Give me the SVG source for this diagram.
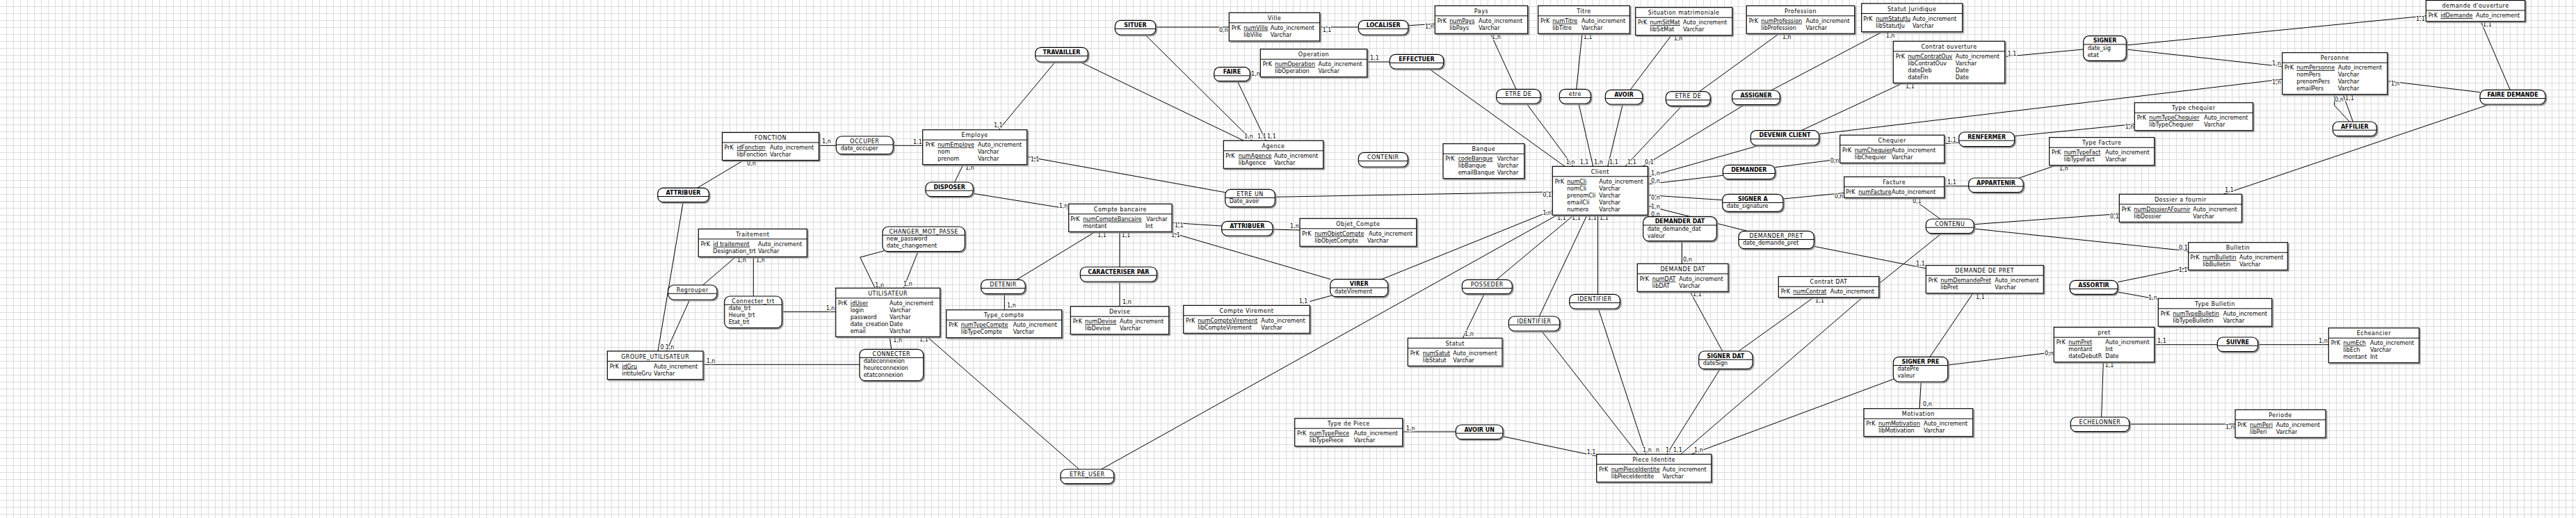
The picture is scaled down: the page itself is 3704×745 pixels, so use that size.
<svg xmlns="http://www.w3.org/2000/svg" width="3704" height="745" viewBox="0 0 3704 745">
<defs>
<pattern id="grid" width="10" height="10" patternUnits="userSpaceOnUse"><path d="M9.5 0V10M0 9.5H10" fill="none" stroke="#dcdcdc" stroke-width="1"/></pattern>
<filter id="sh" x="-5%" y="-5%" width="115%" height="130%"><feDropShadow dx="1.6" dy="1.6" stdDeviation="0.3" flood-color="#8a8a8a" flood-opacity="1"/></filter>
</defs>
<style>
text{font-family:"DejaVu Sans","Liberation Sans",sans-serif;font-size:8px;fill:#000}
.e{fill:#fff;stroke:#000;stroke-width:1.2;filter:url(#sh)}
.r{fill:#fff;stroke:#000;stroke-width:1.2;filter:url(#sh)}
.d{stroke:#000;stroke-width:1;fill:none}
.t{text-anchor:middle;letter-spacing:0.5px}
.b{font-weight:bold;letter-spacing:0}
.k{text-decoration:underline}
.c path{stroke:#000;stroke-width:1;fill:none}
.c text{paint-order:stroke;stroke:#fff;stroke-width:2.5px;stroke-linejoin:round}
</style>
<rect width="3704" height="745" fill="#fff"/>
<rect width="3704" height="745" fill="url(#grid)"/>

<g id="connectors" class="c">
<path d="M1177.7 209.3L1202.3 209.3"/>
<path d="M1284.3 209.3L1326.7 209.3"/>
<path d="M1002.7 270.3L1069.3 230.5"/>
<path d="M982.3 290.7L946 505"/>
<path d="M991.7 431L958.3 505"/>
<path d="M1058 369.3L1010 410.5"/>
<path d="M1083.3 369.3L1083.3 426"/>
<path d="M1124.3 448.3L1201.7 448.3"/>
<path d="M1236 524.3L1011 524.3"/>
<path d="M1279.3 484.3L1281.7 502.3"/>
<path d="M1271.7 360.7L1236.7 370L1258.3 414.3"/>
<path d="M1320 361.7L1299.3 414.3"/>
<path d="M1333 484.3L1551.7 675"/>
<path d="M1583.3 675L2239 309.3"/>
<path d="M1517.3 89L1436 186.7"/>
<path d="M1552.7 89L1788.3 202.3"/>
<path d="M1661.7 39L1767.3 39"/>
<path d="M1646.7 50L1800.6 202.3"/>
<path d="M1779.3 116.7L1820 202.3"/>
<path d="M1797.3 108L1812.3 108"/>
<path d="M1965.7 89L1998.3 89"/>
<path d="M2055 99L2250 239.3"/>
<path d="M1897.7 39L1953.3 39"/>
<path d="M2025 36.7L2063.3 34.5"/>
<path d="M2143.3 48.3L2180 128.3"/>
<path d="M2195 149L2262 239.3"/>
<path d="M2275 48.3L2266.7 128.3"/>
<path d="M2270 149L2290.7 239.3"/>
<path d="M2403.3 50.7L2344 129.3"/>
<path d="M2333.3 150L2311.7 239.3"/>
<path d="M2558.3 48.3L2443.3 131.7"/>
<path d="M2418.3 152.3L2336.7 239.3"/>
<path d="M2706.7 45.7L2546.7 130"/>
<path d="M2508.3 150.7L2362 239.3"/>
<path d="M1833.3 283.3L2232.3 276"/>
<path d="M1476.7 225.4L1761.7 276.7"/>
<path d="M1385 236.7L1372.7 262"/>
<path d="M1399.3 278.3L1536.7 300.4"/>
<path d="M1685 320.3L1756.7 325"/>
<path d="M1830 330L1869 331"/>
<path d="M1575 333.3L1461.7 402.3"/>
<path d="M1610 333.3L1610 384"/>
<path d="M1610 405L1610 440.7"/>
<path d="M1444.3 422.7L1444.3 445.7"/>
<path d="M1685 335L1913.3 401.7"/>
<path d="M1915 425L1883.3 433.5"/>
<path d="M1986.7 401.7L2232.3 302.5"/>
<path d="M2263 309.3L2151.7 402.3"/>
<path d="M2134.3 422.7L2103.3 486.3"/>
<path d="M2282 309.3L2213.3 455"/>
<path d="M2216.7 476L2355 653.3"/>
<path d="M2297.5 309.3L2297.5 423.3"/>
<path d="M2298.3 444L2366.7 653.3"/>
<path d="M2016.7 621L2093.3 621"/>
<path d="M2161 627.7L2295.7 656"/>
<path d="M2430 419.3L2476.7 505"/>
<path d="M2608 427.7L2500 505"/>
<path d="M2473.3 530.7L2396.7 653.3"/>
<path d="M2678.3 427.7L2416.7 653.3"/>
<path d="M2723.3 545L2432 653.3"/>
<path d="M2418.3 346.7L2418.3 379.3"/>
<path d="M2512 332.3L2369.3 296"/>
<path d="M2608.3 354.3L2769.3 386"/>
<path d="M2791.7 335.7L2701.7 408"/>
<path d="M2369.3 254.5L2530 209"/>
<path d="M2590 187.7L2736.7 119.3"/>
<path d="M2615.7 192.7L3281.7 114"/>
<path d="M2369.3 264.9L2477.3 252.3"/>
<path d="M2552.3 240.7L2645.7 228.8"/>
<path d="M2369.3 280.5L2476.7 287.7"/>
<path d="M2564 286L2651.7 277.5"/>
<path d="M2795.7 206.7L2816.7 205"/>
<path d="M2896.7 195.7L3069.3 178.5"/>
<path d="M2795.7 267.7L2830.7 267.7"/>
<path d="M2903.3 256L2956.7 237.7"/>
<path d="M2747.6 284.3L2790 315"/>
<path d="M2838.3 322.7L3047.3 307.5"/>
<path d="M2838.3 329L3146.7 361"/>
<path d="M2882.7 81.5L2995.7 71"/>
<path d="M3057.3 65L3488.3 22.8"/>
<path d="M3057.3 71L3281.7 95.7"/>
<path d="M3567 30.7L3609.3 129.3"/>
<path d="M3432.7 116.5L3566 132.7"/>
<path d="M3580 150L3197 279.3"/>
<path d="M3356.7 135.7L3356.7 151.7L3378.3 175"/>
<path d="M3369 135.7L3383.3 175"/>
<path d="M3045 405.7L3146.7 385"/>
<path d="M3045 420L3103.3 430.5"/>
<path d="M3097.7 495.7L3188.3 495.7"/>
<path d="M3246.7 495.7L3348.3 495.7"/>
<path d="M3024.3 520.7L3021.7 600"/>
<path d="M3061.7 610L3214 610"/>
<path d="M2953.3 506.5L2800.7 525"/>
<path d="M2775 513.3L2837 421.7"/>
<path d="M2762.3 549L2760 587.7"/>

<text x="1182" y="206">1,n</text>
<text x="1313" y="207">1,1</text>
<text x="1074" y="238">0,n</text>
<text x="949.5" y="502">0</text>
<text x="956.7" y="502">1,n</text>
<text x="1060" y="377">1,n</text>
<text x="1087" y="377">1,n</text>
<text x="1187.7" y="445.7">1,n</text>
<text x="1015.7" y="522.3">1,n</text>
<text x="1284.3" y="492">1,n</text>
<text x="1258.3" y="413">1,n</text>
<text x="1299" y="411.3">1,n</text>
<text x="1322" y="491">1,1</text>
<text x="1429" y="183">1,1</text>
<text x="1789" y="199">1,n</text>
<text x="1808" y="199">1,1</text>
<text x="1822" y="199">1,1</text>
<text x="1753" y="46">0,n</text>
<text x="1799" y="109">1,n</text>
<text x="1970" y="86.3">1,1</text>
<text x="1901.7" y="45.7">1,1</text>
<text x="2049" y="41">1,n</text>
<text x="2145" y="56.3">1,n</text>
<text x="2276.7" y="56.3">1,1</text>
<text x="2406.7" y="58">1,n</text>
<text x="2562.7" y="56">1,n</text>
<text x="2711.7" y="53.7">1,n</text>
<text x="2251.7" y="236.3">1,n</text>
<text x="2271.7" y="236.3">1,1</text>
<text x="2292" y="236.3">1,n</text>
<text x="2314" y="236.3">1,1</text>
<text x="2340" y="236.3">1,1</text>
<text x="2365" y="236.3">0,1</text>
<text x="2239" y="316">1,1</text>
<text x="2260" y="316">1,1</text>
<text x="2283" y="316">1,1</text>
<text x="2300" y="316">1,1</text>
<text x="2374" y="252">1,n</text>
<text x="2374" y="263">0,n</text>
<text x="2374" y="287">0,n</text>
<text x="2374" y="299.7">1,n</text>
<text x="2374" y="311.3">0,n</text>
<text x="2218.3" y="283">0,1</text>
<text x="2218.3" y="309">1,n</text>
<text x="1481.7" y="232">1,1</text>
<text x="1388" y="244">1,n</text>
<text x="1522.7" y="298.7">1,n</text>
<text x="1689" y="327">1,1</text>
<text x="1855" y="328">1,n</text>
<text x="1578" y="341">1,1</text>
<text x="1612.7" y="341">1,1</text>
<text x="1684" y="341">1,1</text>
<text x="1614" y="437.3">1,n</text>
<text x="1448" y="442.3">1,n</text>
<text x="1867.7" y="435.7">1,1</text>
<text x="2106" y="483">1,n</text>
<text x="2021.7" y="619">1,n</text>
<text x="2281.7" y="653">1,1</text>
<text x="2362" y="649.7">1,n</text>
<text x="2381" y="649.7">n</text>
<text x="2395" y="649.7">1,</text>
<text x="2406" y="649.7">1,1</text>
<text x="2436" y="649.7">1,n</text>
<text x="2434" y="426.3">1,1</text>
<text x="2610" y="435.3">1,1</text>
<text x="2420" y="376">0,n</text>
<text x="2755" y="382">1,1</text>
<text x="2740" y="127">1,1</text>
<text x="3267" y="121.3">1,n</text>
<text x="2631.7" y="233.7">0,n</text>
<text x="2637.7" y="284.7">0,n</text>
<text x="2800" y="204">1,1</text>
<text x="3055.7" y="184.7">1,n</text>
<text x="2800" y="265.3">1,1</text>
<text x="2961" y="245.3">1,n</text>
<text x="2750" y="292.3">0,1</text>
<text x="3034" y="313.7">0,1</text>
<text x="3133" y="359">0,1</text>
<text x="2886.7" y="79.7">1,1</text>
<text x="3474" y="29.7">1,1</text>
<text x="3267" y="93.7">1,n</text>
<text x="3570" y="38">1,1</text>
<text x="3437.7" y="123">1,n</text>
<text x="3199" y="276">1,1</text>
<text x="3357" y="145.7">0,n</text>
<text x="3372" y="144">1,1</text>
<text x="3132.7" y="391">1,1</text>
<text x="3089" y="430.7">1,n</text>
<text x="3102" y="493">1,1</text>
<text x="3334" y="493">1,n</text>
<text x="3026.7" y="528">1,1</text>
<text x="3200" y="617">1,n</text>
<text x="2940" y="511.3">0,n</text>
<text x="2841" y="429.7">1,1</text>
<text x="2765" y="584">0,n</text>
</g>

<g id="e-fonction"><rect class="e" x="1038.5" y="190.5" width="139" height="40"/><path class="d" d="M1038.5 205h139"/><text class="t" x="1108" y="201">FONCTION</text><text x="1041.5" y="215">PrK</text><text class="k" x="1059.3" y="215">idFonction</text><text x="1107" y="215">Auto_increment</text><text x="1059.3" y="225">libFonction</text><text x="1107" y="225">Varchar</text></g>
<g id="e-traitement"><rect class="e" x="1004.3" y="329.3" width="156" height="40"/><path class="d" d="M1004.3 343.8h156"/><text class="t" x="1082.3" y="339.8">Traitement</text><text x="1007.7" y="353.8">PrK</text><text class="k" x="1025.3" y="353.8">id traitement</text><text x="1090" y="353.8">Auto_increment</text><text x="1025.3" y="363.8">Designation_trt</text><text x="1090" y="363.8">Varchar</text></g>
<g id="e-groupe-utilisateur"><rect class="e" x="873.3" y="505" width="137.7" height="40.7"/><path class="d" d="M873.3 519.5h137.7"/><text class="t" x="942.2" y="515.5">GROUPE_UTILISATEUR</text><text x="876.7" y="529.5">PrK</text><text class="k" x="894.3" y="529.5">idGru</text><text x="940" y="529.5">Auto_increment</text><text x="894.3" y="539.5">intituleGru</text><text x="940" y="539.5">Varchar</text></g>
<g id="e-employe"><rect class="e" x="1326.7" y="186.7" width="150" height="50"/><path class="d" d="M1326.7 201.2h150"/><text class="t" x="1401.7" y="197.2">Employe</text><text x="1330.7" y="211.2">PrK</text><text class="k" x="1348.3" y="211.2">numEmploye</text><text x="1406" y="211.2">Auto_increment</text><text x="1348.3" y="221.2">nom</text><text x="1406" y="221.2">Varchar</text><text x="1348.3" y="231.2">prenom</text><text x="1406" y="231.2">Varchar</text></g>
<g id="e-utilisateur"><rect class="e" x="1201.7" y="414.3" width="150" height="70"/><path class="d" d="M1201.7 428.8h150"/><text class="t" x="1276.7" y="424.8">UTILISATEUR</text><text x="1205" y="438.8">PrK</text><text class="k" x="1222.7" y="438.8">idUser</text><text x="1279" y="438.8">Auto_increment</text><text x="1222.7" y="448.8">login</text><text x="1279" y="448.8">Varchar</text><text x="1222.7" y="458.8">password</text><text x="1279" y="458.8">Varchar</text><text x="1222.7" y="468.8">date_creation</text><text x="1279" y="468.8">Date</text><text x="1222.7" y="478.8">email</text><text x="1279" y="478.8">Varchar</text></g>
<g id="e-compte-bancaire"><rect class="e" x="1536.7" y="293.3" width="148.3" height="40"/><path class="d" d="M1536.7 307.8h148.3"/><text class="t" x="1610.9" y="303.8">Compte bancaire</text><text x="1539.3" y="317.8">PrK</text><text class="k" x="1557.3" y="317.8">numCompteBancaire</text><text x="1648.3" y="317.8">Varchar</text><text x="1557.3" y="327.8">montant</text><text x="1647" y="327.8">Int</text></g>
<g id="e-type-compte"><rect class="e" x="1360.7" y="445.7" width="166" height="40"/><path class="d" d="M1360.7 460.2h166"/><text class="t" x="1443.7" y="456.2">Type_compte</text><text x="1364" y="470.2">PrK</text><text class="k" x="1381.7" y="470.2">numTypeCompte</text><text x="1456.7" y="470.2">Auto_increment</text><text x="1381.7" y="480.2">libTypeCompte</text><text x="1456.7" y="480.2">Varchar</text></g>
<g id="e-devise"><rect class="e" x="1539.3" y="440.7" width="141.4" height="40"/><path class="d" d="M1539.3 455.2h141.4"/><text class="t" x="1610" y="451.2">Devise</text><text x="1542.7" y="465.2">PrK</text><text class="k" x="1560" y="465.2">numDevise</text><text x="1610" y="465.2">Auto_increment</text><text x="1560" y="475.2">libDevise</text><text x="1610" y="475.2">Varchar</text></g>
<g id="e-compte-virement"><rect class="e" x="1701.7" y="439.3" width="181.6" height="40"/><path class="d" d="M1701.7 453.8h181.6"/><text class="t" x="1792.5" y="449.8">Compte Virement</text><text x="1705" y="463.8">PrK</text><text class="k" x="1722.3" y="463.8">numCompteVirement</text><text x="1813.3" y="463.8">Auto_increment</text><text x="1722.3" y="473.8">libCompteVirement</text><text x="1813.3" y="473.8">Varchar</text></g>
<g id="e-ville"><rect class="e" x="1767.3" y="18.3" width="130.4" height="40.7"/><path class="d" d="M1767.3 32.8h130.4"/><text class="t" x="1832.5" y="28.8">Ville</text><text x="1770.7" y="42.8">PrK</text><text class="k" x="1788.3" y="42.8">numVille</text><text x="1826.7" y="42.8">Auto_increment</text><text x="1788.3" y="52.8">libVille</text><text x="1826.7" y="52.8">Varchar</text></g>
<g id="e-operation"><rect class="e" x="1812.3" y="70.7" width="153.4" height="40"/><path class="d" d="M1812.3 85.2h153.4"/><text class="t" x="1889" y="81.2">Operation</text><text x="1815.7" y="95.2">PrK</text><text class="k" x="1833.3" y="95.2">numOperation</text><text x="1895.5" y="95.2">Auto_increment</text><text x="1833.3" y="105.2">libOperation</text><text x="1895.5" y="105.2">Varchar</text></g>
<g id="e-agence"><rect class="e" x="1759.3" y="202.3" width="143.4" height="40"/><path class="d" d="M1759.3 216.8h143.4"/><text class="t" x="1831" y="212.8">Agence</text><text x="1762.3" y="226.8">PrK</text><text class="k" x="1780.7" y="226.8">numAgence</text><text x="1832" y="226.8">Auto_increment</text><text x="1780.7" y="236.8">libAgence</text><text x="1832" y="236.8">Varchar</text></g>
<g id="e-banque"><rect class="e" x="2075" y="206.7" width="116.7" height="50"/><path class="d" d="M2075 221.2h116.7"/><text class="t" x="2133.3" y="217.2">Banque</text><text x="2078.3" y="231.2">PrK</text><text class="k" x="2096.7" y="231.2">codeBanque</text><text x="2152.7" y="231.2">Varchar</text><text x="2096.7" y="241.2">libBanque</text><text x="2152.7" y="241.2">Varchar</text><text x="2096.7" y="251.2">emailBanque</text><text x="2152.7" y="251.2">Varchar</text></g>
<g id="e-objet-compte"><rect class="e" x="1869" y="314.3" width="167.7" height="40"/><path class="d" d="M1869 328.8h167.7"/><text class="t" x="1952.8" y="324.8">Objet_Compte</text><text x="1872.3" y="338.8">PrK</text><text class="k" x="1890.3" y="338.8">numObjetCompte</text><text x="1968" y="338.8">Auto_increment</text><text x="1890.3" y="348.8">libObjetCompte</text><text x="1966" y="348.8">Varchar</text></g>
<g id="e-pays"><rect class="e" x="2063.3" y="8.3" width="133.4" height="40"/><path class="d" d="M2063.3 22.8h133.4"/><text class="t" x="2130" y="18.8">Pays</text><text x="2066.7" y="32.8">PrK</text><text class="k" x="2084.3" y="32.8">numPays</text><text x="2126" y="32.8">Auto_increment</text><text x="2084.3" y="42.8">libPays</text><text x="2126" y="42.8">Varchar</text></g>
<g id="e-titre"><rect class="e" x="2211.7" y="8.3" width="131.6" height="40"/><path class="d" d="M2211.7 22.8h131.6"/><text class="t" x="2277.5" y="18.8">Titre</text><text x="2215" y="32.8">PrK</text><text class="k" x="2232.3" y="32.8">numTitre</text><text x="2274" y="32.8">Auto_increment</text><text x="2232.3" y="42.8">libTitre</text><text x="2274" y="42.8">Varchar</text></g>
<g id="e-situation-matrimoniale"><rect class="e" x="2351.7" y="10.7" width="139" height="40"/><path class="d" d="M2351.7 25.2h139"/><text class="t" x="2421.2" y="21.2">Situation matrimoniale</text><text x="2355" y="35.2">PrK</text><text class="k" x="2372.3" y="35.2">numSitMat</text><text x="2420" y="35.2">Auto_increment</text><text x="2372.3" y="45.2">libSitMat</text><text x="2420" y="45.2">Varchar</text></g>
<g id="e-profession"><rect class="e" x="2511.3" y="8.3" width="155.4" height="40"/><path class="d" d="M2511.3 22.8h155.4"/><text class="t" x="2589" y="18.8">Profession</text><text x="2514.7" y="32.8">PrK</text><text class="k" x="2532.3" y="32.8">numProfession</text><text x="2596.5" y="32.8">Auto_increment</text><text x="2532.3" y="42.8">libProfession</text><text x="2596.5" y="42.8">Varchar</text></g>
<g id="e-statut-juridique"><rect class="e" x="2676.7" y="5" width="145" height="40.7"/><path class="d" d="M2676.7 19.5h145"/><text class="t" x="2749.2" y="15.5">Statut Juridique</text><text x="2679.3" y="29.5">PrK</text><text class="k" x="2697.3" y="29.5">numStatutJu</text><text x="2750" y="29.5">Auto_increment</text><text x="2697.3" y="39.5">libStatutJu</text><text x="2750" y="39.5">Varchar</text></g>
<g id="e-contrat-ouverture"><rect class="e" x="2722.3" y="59.3" width="160.4" height="60"/><path class="d" d="M2722.3 73.8h160.4"/><text class="t" x="2802.5" y="69.8">Contrat ouverture</text><text x="2725.7" y="83.8">PrK</text><text class="k" x="2743.3" y="83.8">numContratOuv</text><text x="2811.7" y="83.8">Auto_increment</text><text x="2743.3" y="93.8">libContratOuv</text><text x="2811.7" y="93.8">Varchar</text><text x="2743.3" y="103.8">dateDeb</text><text x="2811.7" y="103.8">Date</text><text x="2743.3" y="113.8">dateFin</text><text x="2811.7" y="113.8">Date</text></g>
<g id="e-client"><rect class="e" x="2232.3" y="239.3" width="137" height="70"/><path class="d" d="M2232.3 253.8h137"/><text class="t" x="2300.8" y="249.8">Client</text><text x="2235.7" y="263.8">PrK</text><text class="k" x="2253.3" y="263.8">numCli</text><text x="2299.3" y="263.8">Auto_increment</text><text x="2253.3" y="273.8">nomCli</text><text x="2299.3" y="273.8">Varchar</text><text x="2253.3" y="283.8">prenomCli</text><text x="2299.3" y="283.8">Varchar</text><text x="2253.3" y="293.8">emailCli</text><text x="2299.3" y="293.8">Varchar</text><text x="2253.3" y="303.8">numero</text><text x="2299.3" y="303.8">Varchar</text></g>
<g id="e-chequier"><rect class="e" x="2645.7" y="194.3" width="150" height="40"/><path class="d" d="M2645.7 208.8h150"/><text class="t" x="2720.7" y="204.8">Chequier</text><text x="2649" y="218.8">PrK</text><text class="k" x="2666.7" y="218.8">numChequier</text><text x="2720" y="218.8">Auto_increment</text><text x="2666.7" y="228.8">libChequier</text><text x="2720" y="228.8">Varchar</text></g>
<g id="e-facture"><rect class="e" x="2651.7" y="254.3" width="144" height="30"/><path class="d" d="M2651.7 268.8h144"/><text class="t" x="2723.7" y="264.8">Facture</text><text x="2654.3" y="278.8">PrK</text><text class="k" x="2672.3" y="278.8">numFacture</text><text x="2720" y="278.8">Auto_increment</text></g>
<g id="e-type-chequier"><rect class="e" x="3069.3" y="147.7" width="170" height="40"/><path class="d" d="M3069.3 162.2h170"/><text class="t" x="3154.3" y="158.2">Type chequier</text><text x="3072.7" y="172.2">PrK</text><text class="k" x="3090" y="172.2">numTypeChequier</text><text x="3169" y="172.2">Auto_increment</text><text x="3090" y="182.2">libTypeChequier</text><text x="3169" y="182.2">Varchar</text></g>
<g id="e-type-facture"><rect class="e" x="2946.7" y="197.7" width="151" height="40"/><path class="d" d="M2946.7 212.2h151"/><text class="t" x="3022.2" y="208.2">Type Facture</text><text x="2950" y="222.2">PrK</text><text class="k" x="2967.7" y="222.2">numTypeFact</text><text x="3027.3" y="222.2">Auto_increment</text><text x="2967.7" y="232.2">libTypeFact</text><text x="3027.3" y="232.2">Varchar</text></g>
<g id="e-demande-ouverture"><rect class="e" x="3488.3" y="0.5" width="142.4" height="30.2"/><path class="d" d="M3488.3 15h142.4"/><text class="t" x="3559.5" y="11">demande d'ouverture</text><text x="3491.7" y="25">PrK</text><text class="k" x="3509.3" y="25">idDemande</text><text x="3560" y="25">Auto_increment</text></g>
<g id="e-personne"><rect class="e" x="3281.7" y="75.7" width="151" height="60"/><path class="d" d="M3281.7 90.2h151"/><text class="t" x="3357.2" y="86.2">Personne</text><text x="3284.7" y="100.2">PrK</text><text class="k" x="3302.3" y="100.2">numPersonne</text><text x="3361.7" y="100.2">Auto_increment</text><text x="3302.3" y="110.2">nomPers</text><text x="3361.7" y="110.2">Varchar</text><text x="3302.3" y="120.2">prenomPers</text><text x="3361.7" y="120.2">Varchar</text><text x="3302.3" y="130.2">emailPers</text><text x="3361.7" y="130.2">Varchar</text></g>
<g id="e-dossier-a-fournir"><rect class="e" x="3047.3" y="279.3" width="176" height="40"/><path class="d" d="M3047.3 293.8h176"/><text class="t" x="3135.3" y="289.8">Dossier a fournir</text><text x="3050.7" y="303.8">PrK</text><text class="k" x="3068.3" y="303.8">numDossierAFournir</text><text x="3153.3" y="303.8">Auto_increment</text><text x="3068.3" y="313.8">libDossier</text><text x="3153.3" y="313.8">Varchar</text></g>
<g id="e-bulletin"><rect class="e" x="3146.7" y="348.7" width="142.6" height="39.6"/><path class="d" d="M3146.7 363.2h142.6"/><text class="t" x="3218" y="359.2">Bulletin</text><text x="3149.3" y="373.2">PrK</text><text class="k" x="3167.3" y="373.2">numBulletin</text><text x="3220" y="373.2">Auto_increment</text><text x="3167.3" y="383.2">libBulletin</text><text x="3220" y="383.2">Varchar</text></g>
<g id="e-type-bulletin"><rect class="e" x="3103.3" y="429.3" width="163.4" height="40"/><path class="d" d="M3103.3 443.8h163.4"/><text class="t" x="3185" y="439.8">Type Bulletin</text><text x="3106.7" y="453.8">PrK</text><text class="k" x="3124.3" y="453.8">numTypeBulletin</text><text x="3196.7" y="453.8">Auto_increment</text><text x="3124.3" y="463.8">libTypeBulletin</text><text x="3196.7" y="463.8">Varchar</text></g>
<g id="e-demande-dat"><rect class="e" x="2354.3" y="379.3" width="130.7" height="40"/><path class="d" d="M2354.3 393.8h130.7"/><text class="t" x="2419.7" y="389.8">DEMANDE DAT</text><text x="2357.7" y="403.8">PrK</text><text class="k" x="2375.7" y="403.8">numDAT</text><text x="2414.3" y="403.8">Auto_increment</text><text x="2375.7" y="413.8">libDAT</text><text x="2414.3" y="413.8">Varchar</text></g>
<g id="e-contrat-dat"><rect class="e" x="2557.3" y="397.7" width="144.4" height="30"/><path class="d" d="M2557.3 412.2h144.4"/><text class="t" x="2629.5" y="408.2">Contrat DAT</text><text x="2560.7" y="422.2">PrK</text><text class="k" x="2578.3" y="422.2">numContrat</text><text x="2631.7" y="422.2">Auto_increment</text></g>
<g id="e-demande-de-pret"><rect class="e" x="2769.3" y="381.7" width="169" height="40"/><path class="d" d="M2769.3 396.2h169"/><text class="t" x="2853.8" y="392.2">DEMANDE DE PRET</text><text x="2772.7" y="406.2">PrK</text><text class="k" x="2790.3" y="406.2">numDemandePret</text><text x="2868.3" y="406.2">Auto_increment</text><text x="2790.3" y="416.2">libPret</text><text x="2868.3" y="416.2">Varchar</text></g>
<g id="e-pret"><rect class="e" x="2953.3" y="470.7" width="144.4" height="50"/><path class="d" d="M2953.3 485.2h144.4"/><text class="t" x="3025.5" y="481.2">pret</text><text x="2956.7" y="495.2">PrK</text><text class="k" x="2974.3" y="495.2">numPret</text><text x="3027.3" y="495.2">Auto_increment</text><text x="2974.3" y="505.2">montant</text><text x="3027.3" y="505.2">Int</text><text x="2974.3" y="515.2">dateDebutR</text><text x="3027.3" y="515.2">Date</text></g>
<g id="e-echeancier"><rect class="e" x="3348.3" y="471.7" width="130" height="50"/><path class="d" d="M3348.3 486.2h130"/><text class="t" x="3413.3" y="482.2">Echeancier</text><text x="3351.7" y="496.2">PrK</text><text class="k" x="3369.3" y="496.2">numEch</text><text x="3408" y="496.2">Auto_increment</text><text x="3369.3" y="506.2">libEch</text><text x="3408" y="506.2">Varchar</text><text x="3369.3" y="516.2">montant</text><text x="3408" y="516.2">Int</text></g>
<g id="e-periode"><rect class="e" x="3214" y="589.3" width="130" height="40"/><path class="d" d="M3214 603.8h130"/><text class="t" x="3279" y="599.8">Periode</text><text x="3217.3" y="613.8">PrK</text><text class="k" x="3235" y="613.8">numPeri</text><text x="3272.7" y="613.8">Auto_increment</text><text x="3235" y="623.8">libPeri</text><text x="3272.7" y="623.8">Varchar</text></g>
<g id="e-motivation"><rect class="e" x="2680" y="587.7" width="156.7" height="40"/><path class="d" d="M2680 602.2h156.7"/><text class="t" x="2758.3" y="598.2">Motivation</text><text x="2683.3" y="612.2">PrK</text><text class="k" x="2701" y="612.2">numMotivation</text><text x="2766" y="612.2">Auto_increment</text><text x="2701" y="622.2">libMotivation</text><text x="2766" y="622.2">Varchar</text></g>
<g id="e-statut"><rect class="e" x="2024.3" y="486.3" width="135.7" height="40"/><path class="d" d="M2024.3 500.8h135.7"/><text class="t" x="2092.2" y="496.8">Statut</text><text x="2027.7" y="510.8">PrK</text><text class="k" x="2045.7" y="510.8">numSatut</text><text x="2089.3" y="510.8">Auto_increment</text><text x="2045.7" y="520.8">libStatut</text><text x="2089.3" y="520.8">Varchar</text></g>
<g id="e-type-de-piece"><rect class="e" x="1861.7" y="601.7" width="155" height="40"/><path class="d" d="M1861.7 616.2h155"/><text class="t" x="1939.2" y="612.2">Type de Piece</text><text x="1865" y="626.2">PrK</text><text class="k" x="1882.7" y="626.2">numTypePiece</text><text x="1946.7" y="626.2">Auto_increment</text><text x="1882.7" y="636.2">libTypePiece</text><text x="1946.7" y="636.2">Varchar</text></g>
<g id="e-piece-identite"><rect class="e" x="2295.7" y="653.3" width="165" height="40"/><path class="d" d="M2295.7 667.8h165"/><text class="t" x="2378.2" y="663.8">Piece Identite</text><text x="2299" y="677.8">PrK</text><text class="k" x="2316.7" y="677.8">numPieceIdentite</text><text x="2390.5" y="677.8">Auto_increment</text><text x="2316.7" y="687.8">libPieceIdentite</text><text x="2390.5" y="687.8">Varchar</text></g>

<g id="a-occuper"><rect class="r" x="1202.3" y="196" width="82" height="25.7" rx="8"/><path class="d" d="M1202.3 208.2h82"/><text class="t" x="1243.3" y="205.5">OCCUPER</text><text x="1208.7" y="216">date_occuper</text></g>
<g id="a-attribuer-1"><rect class="r" x="945.7" y="270.3" width="73.6" height="20.4" rx="8"/><path class="d" d="M945.7 282.5h73.6"/><text class="t b" x="982.5" y="279.8">ATTRIBUER</text></g>
<g id="a-changer-mot-passe"><rect class="r" x="1269" y="326" width="118.3" height="35.7" rx="8"/><path class="d" d="M1269 338.2h118.3"/><text class="t" x="1328.2" y="335.5">CHANGER_MOT_PASSE</text><text x="1274.7" y="346">new_password</text><text x="1274.7" y="356">date_changement</text></g>
<g id="a-situer"><rect class="r" x="1603.3" y="29.3" width="58.4" height="20.7" rx="8"/><path class="d" d="M1603.3 41.5h58.4"/><text class="t b" x="1632.5" y="38.8">SITUER</text></g>
<g id="a-travailler"><rect class="r" x="1488.7" y="68.3" width="75.6" height="20.7" rx="8"/><path class="d" d="M1488.7 80.5h75.6"/><text class="t b" x="1526.5" y="77.8">TRAVAILLER</text></g>
<g id="a-faire"><rect class="r" x="1745.7" y="96.7" width="51.6" height="20" rx="8"/><path class="d" d="M1745.7 108.9h51.6"/><text class="t b" x="1771.5" y="106.2">FAIRE</text></g>
<g id="a-disposer"><rect class="r" x="1331" y="262" width="68.3" height="20.7" rx="8"/><path class="d" d="M1331 274.2h68.3"/><text class="t b" x="1365.2" y="271.5">DISPOSER</text></g>
<g id="a-etre-un"><rect class="r" x="1761.7" y="272.3" width="71.6" height="25.4" rx="8"/><path class="d" d="M1761.7 284.5h71.6"/><text class="t" x="1797.5" y="281.8">ETRE UN</text><text x="1767.7" y="292.3">Date_avoir</text></g>
<g id="a-attribuer-2"><rect class="r" x="1756.7" y="318.3" width="73.3" height="20.7" rx="8"/><path class="d" d="M1756.7 330.5h73.3"/><text class="t b" x="1793.3" y="327.8">ATTRIBUER</text></g>
<g id="a-localiser"><rect class="r" x="1953.3" y="29.3" width="71.7" height="20.7" rx="8"/><path class="d" d="M1953.3 41.5h71.7"/><text class="t b" x="1989.2" y="38.8">LOCALISER</text></g>
<g id="a-effectuer"><rect class="r" x="1998.3" y="78.3" width="77.4" height="20.7" rx="8"/><path class="d" d="M1998.3 90.5h77.4"/><text class="t b" x="2037" y="87.8">EFFECTUER</text></g>
<g id="a-contenir"><rect class="r" x="1953.3" y="219.3" width="71" height="20.7" rx="8"/><path class="d" d="M1953.3 231.5h71"/><text class="t" x="1988.8" y="228.8">CONTENIR</text></g>
<g id="a-etre-de-1"><rect class="r" x="2151.7" y="128.3" width="63.3" height="20.7" rx="8"/><path class="d" d="M2151.7 140.5h63.3"/><text class="t" x="2183.3" y="137.8">ETRE DE</text></g>
<g id="a-etre"><rect class="r" x="2242.3" y="128.3" width="45" height="20.7" rx="8"/><path class="d" d="M2242.3 140.5h45"/><text class="t" x="2264.8" y="137.8">etre</text></g>
<g id="a-avoir"><rect class="r" x="2308.3" y="129.3" width="53.4" height="20.7" rx="8"/><path class="d" d="M2308.3 141.5h53.4"/><text class="t b" x="2335" y="138.8">AVOIR</text></g>
<g id="a-etre-de-2"><rect class="r" x="2395.3" y="131.7" width="64" height="20.6" rx="8"/><path class="d" d="M2395.3 143.9h64"/><text class="t" x="2427.3" y="141.2">ETRE DE</text></g>
<g id="a-assigner"><rect class="r" x="2490.7" y="130" width="68.6" height="20.7" rx="8"/><path class="d" d="M2490.7 142.2h68.6"/><text class="t b" x="2525" y="139.5">ASSIGNER</text></g>
<g id="a-devenir-client"><rect class="r" x="2517.3" y="187.7" width="98.4" height="21.3" rx="8"/><path class="d" d="M2517.3 199.9h98.4"/><text class="t b" x="2566.5" y="197.2">DEVENIR CLIENT</text></g>
<g id="a-demander"><rect class="r" x="2477.3" y="237.3" width="75" height="20.4" rx="8"/><path class="d" d="M2477.3 249.5h75"/><text class="t b" x="2514.8" y="246.8">DEMANDER</text></g>
<g id="a-signer-a"><rect class="r" x="2476.7" y="279.3" width="87.3" height="25" rx="8"/><path class="d" d="M2476.7 291.5h87.3"/><text class="t b" x="2520.3" y="288.8">SIGNER A</text><text x="2482.7" y="299.3">date_signature</text></g>
<g id="a-demander-dat"><rect class="r" x="2362.7" y="311.7" width="105.6" height="35" rx="8"/><path class="d" d="M2362.7 323.9h105.6"/><text class="t b" x="2415.5" y="321.2">DEMANDER DAT</text><text x="2368.7" y="331.7">date_demande_dat</text><text x="2368.7" y="341.7">valeur</text></g>
<g id="a-demander-pret"><rect class="r" x="2500" y="332.3" width="108.3" height="25.4" rx="8"/><path class="d" d="M2500 344.5h108.3"/><text class="t" x="2554.2" y="341.8">DEMANDER_PRET</text><text x="2506" y="352.3">date_demande_pret</text></g>
<g id="a-signer"><rect class="r" x="2995.7" y="51.7" width="61.6" height="35.6" rx="8"/><path class="d" d="M2995.7 63.9h61.6"/><text class="t b" x="3026.5" y="61.2">SIGNER</text><text x="3001.7" y="71.7">date_sig</text><text x="3001.7" y="81.7">etat</text></g>
<g id="a-renfermer"><rect class="r" x="2816.7" y="190" width="80" height="20.7" rx="8"/><path class="d" d="M2816.7 202.2h80"/><text class="t b" x="2856.7" y="199.5">RENFERMER</text></g>
<g id="a-appartenir"><rect class="r" x="2830.7" y="256" width="78.6" height="20.7" rx="8"/><path class="d" d="M2830.7 268.2h78.6"/><text class="t b" x="2870" y="265.5">APPARTENIR</text></g>
<g id="a-contenu"><rect class="r" x="2769.3" y="315" width="69" height="20.7" rx="8"/><path class="d" d="M2769.3 327.2h69"/><text class="t" x="2803.8" y="324.5">CONTENU</text></g>
<g id="a-affilier"><rect class="r" x="3354.3" y="175" width="63" height="20.7" rx="8"/><path class="d" d="M3354.3 187.2h63"/><text class="t b" x="3385.8" y="184.5">AFFILIER</text></g>
<g id="a-faire-demande"><rect class="r" x="3566" y="129.3" width="94" height="20.7" rx="8"/><path class="d" d="M3566 141.5h94"/><text class="t b" x="3613" y="138.8">FAIRE DEMANDE</text></g>
<g id="a-regrouper"><rect class="r" x="960.7" y="410" width="70.3" height="21" rx="8"/><path class="d" d="M960.7 422.2h70.3"/><text class="t" x="995.8" y="419.5">Regrouper</text></g>
<g id="a-connecter-trt"><rect class="r" x="1041.7" y="426" width="82.6" height="45.7" rx="8"/><path class="d" d="M1041.7 438.2h82.6"/><text class="t" x="1083" y="435.5">Connecter_trt</text><text x="1047.7" y="446">date_trt</text><text x="1047.7" y="456">Heure_trt</text><text x="1047.7" y="466">Etat_trt</text></g>
<g id="a-connecter"><rect class="r" x="1236" y="502.3" width="91.7" height="45.4" rx="8"/><path class="d" d="M1236 514.5h91.7"/><text class="t" x="1281.8" y="511.8">CONNECTER</text><text x="1241.7" y="522.3">dateconnexion</text><text x="1241.7" y="532.3">heureconnexion</text><text x="1241.7" y="542.3">etatconnexion</text></g>
<g id="a-detenir"><rect class="r" x="1410.7" y="402.3" width="63.6" height="20.4" rx="8"/><path class="d" d="M1410.7 414.5h63.6"/><text class="t" x="1442.5" y="411.8">DETENIR</text></g>
<g id="a-caracteriser-par"><rect class="r" x="1553.3" y="384" width="110" height="21" rx="8"/><path class="d" d="M1553.3 396.2h110"/><text class="t b" x="1608.3" y="393.5">CARACTERISER PAR</text></g>
<g id="a-etre-user"><rect class="r" x="1525" y="675" width="76.7" height="20.7" rx="8"/><path class="d" d="M1525 687.2h76.7"/><text class="t" x="1563.3" y="684.5">ETRE_USER</text></g>
<g id="a-virer"><rect class="r" x="1912.7" y="401.7" width="83" height="25" rx="8"/><path class="d" d="M1912.7 413.9h83"/><text class="t b" x="1954.2" y="411.2">VIRER</text><text x="1918.7" y="421.7">dateVirement</text></g>
<g id="a-posseder"><rect class="r" x="2102.3" y="402.3" width="72" height="20.4" rx="8"/><path class="d" d="M2102.3 414.5h72"/><text class="t" x="2138.3" y="411.8">POSSEDER</text></g>
<g id="a-identifier-1"><rect class="r" x="2169.3" y="455" width="73.4" height="21" rx="8"/><path class="d" d="M2169.3 467.2h73.4"/><text class="t" x="2206" y="464.5">IDENTIFIER</text></g>
<g id="a-identifier-2"><rect class="r" x="2256.7" y="423.3" width="72.6" height="20.7" rx="8"/><path class="d" d="M2256.7 435.5h72.6"/><text class="t" x="2293" y="432.8">IDENTIFIER</text></g>
<g id="a-avoir-un"><rect class="r" x="2093.3" y="611" width="67.7" height="20.7" rx="8"/><path class="d" d="M2093.3 623.2h67.7"/><text class="t b" x="2127.2" y="620.5">AVOIR UN</text></g>
<g id="a-signer-dat"><rect class="r" x="2442.7" y="505" width="77.3" height="25.7" rx="8"/><path class="d" d="M2442.7 517.2h77.3"/><text class="t b" x="2481.3" y="514.5">SIGNER DAT</text><text x="2448.7" y="525">dateSign</text></g>
<g id="a-signer-pre"><rect class="r" x="2722.3" y="513.3" width="78.4" height="35.7" rx="8"/><path class="d" d="M2722.3 525.5h78.4"/><text class="t b" x="2761.5" y="522.8">SIGNER PRE</text><text x="2728.3" y="533.3">datePre</text><text x="2728.3" y="543.3">valeur</text></g>
<g id="a-assortir"><rect class="r" x="2976" y="403.3" width="69" height="20" rx="8"/><path class="d" d="M2976 415.5h69"/><text class="t b" x="3010.5" y="412.8">ASSORTIR</text></g>
<g id="a-suivre"><rect class="r" x="3188.3" y="485" width="58.4" height="20.7" rx="8"/><path class="d" d="M3188.3 497.2h58.4"/><text class="t b" x="3217.5" y="494.5">SUIVRE</text></g>
<g id="a-echelonner"><rect class="r" x="2977.3" y="600" width="84.4" height="20.7" rx="8"/><path class="d" d="M2977.3 612.2h84.4"/><text class="t" x="3019.5" y="609.5">ECHELONNER</text></g>
</svg>
